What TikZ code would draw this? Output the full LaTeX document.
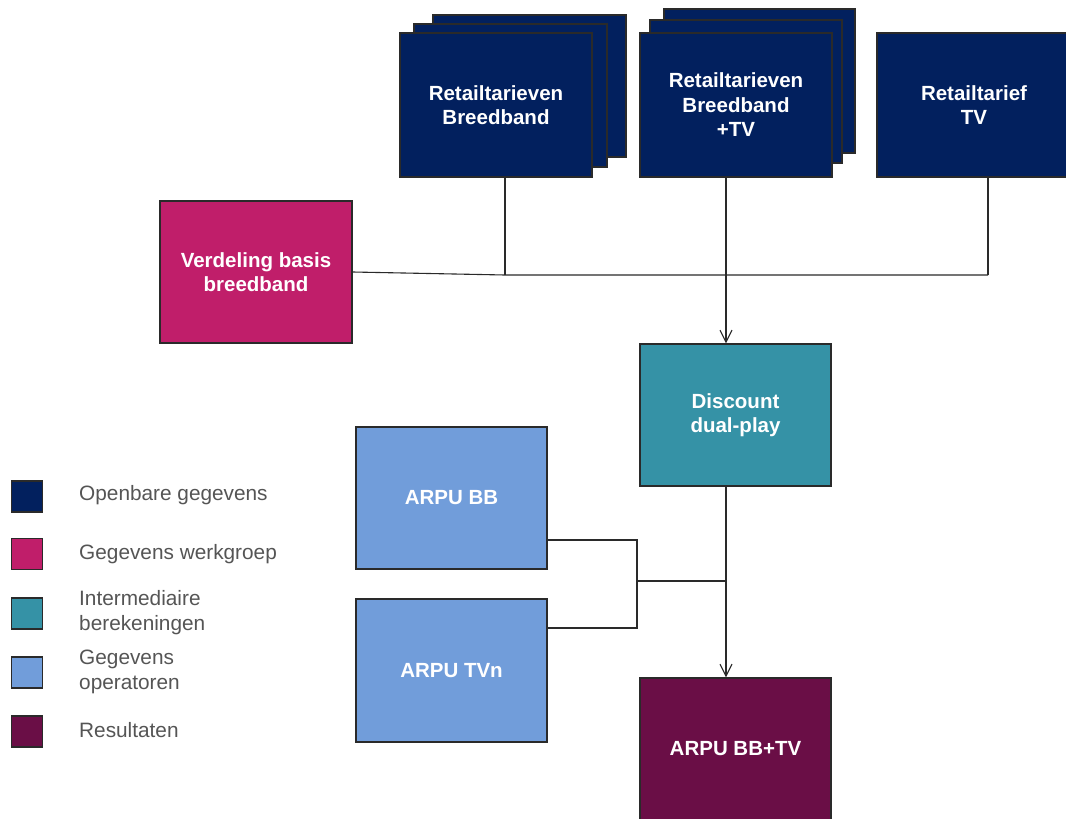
\documentclass[tikz,border=0pt]{standalone}
\usepackage{fontspec}
\setmainfont{Liberation Sans}
\usetikzlibrary{arrows.meta}
\definecolor{navy}{HTML}{02205E}
\definecolor{pinkc}{HTML}{C01E6A}
\definecolor{tealc}{HTML}{3592A6}
\definecolor{lblue}{HTML}{719DDA}
\definecolor{purp}{HTML}{6A0E46}
\definecolor{legtext}{HTML}{555555}
\definecolor{linec}{HTML}{2A2A2A}
\tikzset{
  box/.style={draw=linec, line width=1.3pt, minimum width=192pt, minimum height=144pt,
    inner sep=0pt, text=white, align=center, font=\bfseries\fontsize{20.5}{24.5}\selectfont},
  backbox/.style={draw=linec, line width=1.3pt, fill=navy},
  legbox/.style={draw=linec, line width=1.3pt, minimum width=31pt, minimum height=31pt, inner sep=0pt},
  legtxt/.style={anchor=west, inner sep=0pt, text=legtext, align=left, font=\fontsize{20.8}{25}\selectfont},
  conn/.style={draw=linec, line width=1.1pt},
  arr/.style={conn, -{Straight Barb[length=12pt,width=12pt,line width=1.1pt]}}
}
\begin{document}
\begin{tikzpicture}[x=1pt,y=-1pt]
\useasboundingbox[fill=white] (0,0) rectangle (1066,819);
% stacked back boxes
\draw[backbox] (433,15) rectangle (626,157);
\draw[backbox] (414,24) rectangle (607,167);
\draw[backbox] (664,9) rectangle (855,153);
\draw[backbox] (650,20) rectangle (842,163);
% main boxes
\node[box, fill=navy] (rb) at (496,105) {Retailtarieven\\Breedband};
\node[box, fill=navy] (rbtv) at (736,105) {Retailtarieven\\Breedband\\+TV};
\node[box, fill=navy, minimum width=194pt] (rtv) at (974,105) {Retailtarief\\TV};
\node[box, fill=pinkc, minimum height=142pt] (verd) at (256,272) {Verdeling basis\\breedband};
\node[box, fill=tealc, minimum width=191pt, minimum height=142pt] (disc) at (735.5,415) {Discount\\dual-play};
\node[box, fill=lblue, minimum width=191pt, minimum height=142pt] (bb) at (451.5,498) {ARPU BB};
\node[box, fill=lblue, minimum width=191pt, minimum height=143pt] (tvn) at (451.5,670.5) {ARPU TVn};
\node[box, fill=purp, minimum width=191pt, minimum height=142pt] (res) at (735.5,749) {ARPU BB+TV};
% junctions
\coordinate (jA) at (505,275);
\coordinate (jB) at (726,275);
\coordinate (jC) at (988,275);
\coordinate (jD) at (637,540);
\coordinate (jE) at (637,628);
\coordinate (jF) at (637,581);
\coordinate (jG) at (726,581);
% connectors
\draw[conn] (rb.south -| jA) -- (jA);
\draw[conn] (rtv.south -| jC) -- (jC);
\draw[conn] (verd.east) -- (jA) -- (jC);
\draw[arr] (rbtv.south -| jB) -- (disc.north -| jB);
\draw[conn] (bb.east |- jD) -- (jD) -- (jE) -- (tvn.east |- jE);
\draw[conn] (jF) -- (jG);
\draw[arr] (disc.south -| jG) -- (res.north -| jG);
% legend
\node[legbox, fill=navy] (l1) at (27,496.5) {};
\node[legbox, fill=pinkc] (l2) at (27,554) {};
\node[legbox, fill=tealc] (l3) at (27,613.5) {};
\node[legbox, fill=lblue] (l4) at (27,672.5) {};
\node[legbox, fill=purp] (l5) at (27,731.5) {};
\node[legtxt] (t1) at (79,495) {Openbare gegevens};
\node[legtxt] (t2) at (79,554) {Gegevens werkgroep};
\node[legtxt] (t3) at (79,612.5) {Intermediaire\\berekeningen};
\node[legtxt] (t4) at (79,671.5) {Gegevens\\operatoren};
\node[legtxt] (t5) at (79,730) {Resultaten};
\end{tikzpicture}
\end{document}
